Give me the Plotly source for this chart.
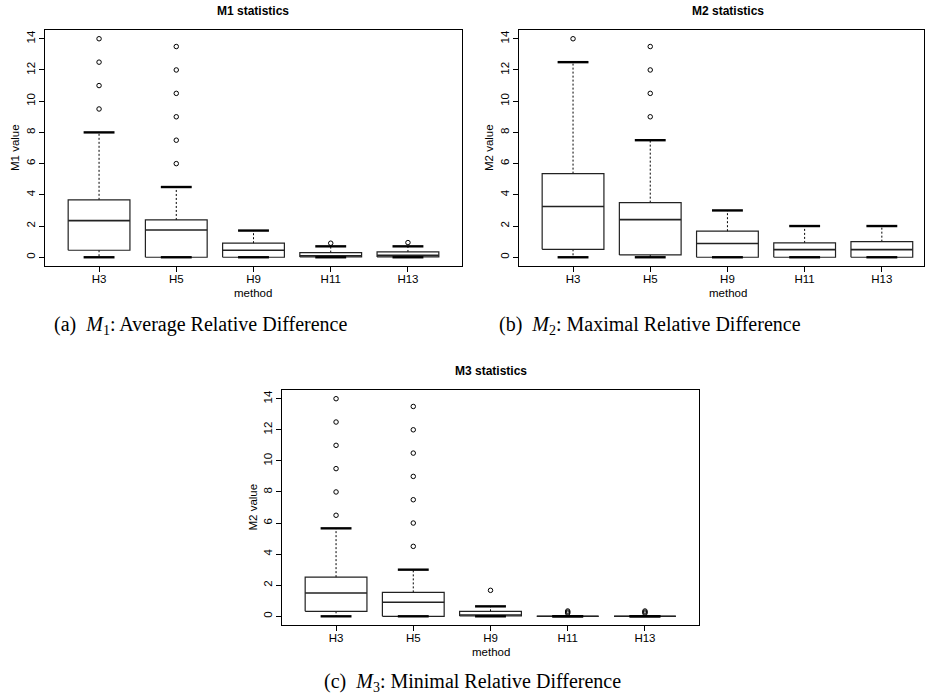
import plotly.graph_objects as go

categories = ["H3", "H5", "H9", "H11", "H13"]
y_ticks = [0, 2, 4, 6, 8, 10, 12, 14]

# M1 statistics
m1_q1 = [0.45, 0.0, 0.0, 0.02, 0.02]
m1_median = [2.35, 1.75, 0.45, 0.10, 0.12]
m1_q3 = [3.68, 2.39, 0.90, 0.30, 0.34]
m1_lower = [0.0, 0.0, 0.0, 0.0, 0.0]
m1_upper = [8.0, 4.5, 1.71, 0.70, 0.70]
m1_outliers = [[9.5, 11.0, 12.5, 14.0], [6.0, 7.5, 9.0, 10.5, 12.0, 13.5], [], [0.90], [0.94]]

# M2 statistics
m2_q1 = [0.51, 0.15, 0.0, 0.0, 0.0]
m2_median = [3.25, 2.41, 0.88, 0.49, 0.49]
m2_q3 = [5.36, 3.50, 1.67, 0.92, 1.00]
m2_lower = [0.0, 0.0, 0.0, 0.0, 0.0]
m2_upper = [12.5, 7.5, 3.0, 2.0, 2.0]
m2_outliers = [[14.0], [9.0, 10.5, 12.0, 13.5], [], [], []]

# M3 statistics
m3_q1 = [0.32, 0.0, 0.02, 0.0, 0.0]
m3_median = [1.5, 0.9, 0.08, 0.0, 0.0]
m3_q3 = [2.52, 1.54, 0.32, 0.0, 0.0]
m3_lower = [0.0, 0.0, 0.0, 0.0, 0.0]
m3_upper = [5.66, 3.0, 0.64, 0.0, 0.0]
m3_outliers = [[6.5, 8.0, 9.5, 11.0, 12.5, 14.0],
               [4.5, 6.0, 7.5, 9.0, 10.5, 12.0, 13.5],
               [1.67], [0.20, 0.27, 0.34], [0.20, 0.27, 0.34]]

panel_titles = ["M1 statistics", "M2 statistics", "M3 statistics"]
y_titles = ["M1 value", "M2 value", "M2 value"]
x_title = "method"
captions = ["(a)  <i>M</i><sub>1</sub>: Average Relative Difference",
            "(b)  <i>M</i><sub>2</sub>: Maximal Relative Difference",
            "(c)  <i>M</i><sub>3</sub>: Minimal Relative Difference"]

panels = [
    (m1_q1, m1_median, m1_q3, m1_lower, m1_upper, m1_outliers),
    (m2_q1, m2_median, m2_q3, m2_lower, m2_upper, m2_outliers),
    (m3_q1, m3_median, m3_q3, m3_lower, m3_upper, m3_outliers),
]

BOXW = 0.4      # half box width (R boxwex 0.8)
STAPW = 0.2     # half staple width
SANS = "Liberation Sans, Arial, Helvetica, sans-serif"
SERIF = "Liberation Serif, Times New Roman, serif"

fig = go.Figure()

for p, (q1, med, q3, lo, hi, outs) in enumerate(panels):
    xa = "x" if p == 0 else f"x{p+1}"
    ya = "y" if p == 0 else f"y{p+1}"
    bx, by, mx, my, wx, wy, sx, sy, ox, oy = [], [], [], [], [], [], [], [], [], []
    for i, _ in enumerate(categories):
        c = i + 1
        bx += [c - BOXW, c + BOXW, c + BOXW, c - BOXW, c - BOXW, None]
        by += [q1[i], q1[i], q3[i], q3[i], q1[i], None]
        mx += [c - BOXW, c + BOXW, None]
        my += [med[i], med[i], None]
        wx += [c, c, None, c, c, None]
        wy += [q3[i], hi[i], None, q1[i], lo[i], None]
        sx += [c - STAPW, c + STAPW, None, c - STAPW, c + STAPW, None]
        sy += [hi[i], hi[i], None, lo[i], lo[i], None]
        for v in outs[i]:
            ox.append(c)
            oy.append(v)
    common = dict(xaxis=xa, yaxis=ya, showlegend=False, hoverinfo="skip")
    fig.add_trace(go.Scatter(x=wx, y=wy, mode="lines",
                             line=dict(color="black", width=1, dash="2px,2px"), **common))
    fig.add_trace(go.Scatter(x=bx, y=by, mode="lines",
                             line=dict(color="#222", width=1.2), **common))
    fig.add_trace(go.Scatter(x=mx, y=my, mode="lines",
                             line=dict(color="#222", width=1.6), **common))
    fig.add_trace(go.Scatter(x=sx, y=sy, mode="lines",
                             line=dict(color="black", width=2.4), **common))
    fig.add_trace(go.Scatter(x=ox, y=oy, mode="markers",
                             marker=dict(symbol="circle-open", size=4.5, color="black",
                                         line=dict(width=1)), **common))

W, H = 925, 700
# plot regions in pixels: (left, right, top, bottom)
regions = [(45, 462, 30, 266), (519, 924, 30, 266), (282, 699, 390, 625)]
x_ranges = [[0.3, 5.7], [0.3, 0.3 + (924 - 519) / 77.2], [0.3, 5.7]]
y_range = [-0.56, 14.56]


def fx(px):
    return px / W


def fy(py):
    return 1 - py / H


layout = dict(width=W, height=H, margin=dict(l=0, r=0, t=0, b=0),
              paper_bgcolor="white", plot_bgcolor="white",
              font=dict(family=SANS, size=11.5, color="black"))
annotations = []
for p, (l, r, t, b) in enumerate(regions):
    xk = "xaxis" if p == 0 else f"xaxis{p+1}"
    yk = "yaxis" if p == 0 else f"yaxis{p+1}"
    xa = "x" if p == 0 else f"x{p+1}"
    ya = "y" if p == 0 else f"y{p+1}"
    layout[xk] = dict(domain=[fx(l), min(1.0, fx(r))], range=x_ranges[p], anchor=ya,
                      tickmode="array", tickvals=list(range(1, len(categories) + 1)),
                      ticktext=categories, ticks="outside", ticklen=5, tickcolor="black",
                      ticklabelstandoff=-3,
                      showline=True, mirror=True, linecolor="black", linewidth=1,
                      showgrid=False, zeroline=False, fixedrange=True,
                      tickfont=dict(family=SANS, size=11.5))
    layout[yk] = dict(domain=[fy(b), fy(t)], range=y_range, anchor=xa,
                      tickmode="array", tickvals=y_ticks, ticktext=[str(v) for v in y_ticks],
                      tickangle=-90, ticks="outside", ticklen=5, tickcolor="black",
                      ticklabelstandoff=-1,
                      showline=True, mirror=True, linecolor="black", linewidth=1,
                      showgrid=False, zeroline=False, fixedrange=True,
                      tickfont=dict(family=SANS, size=11.5))
    cx = (l + (r if p != 1 else 936)) / 2
    annotations.append(dict(text="<b>" + panel_titles[p] + "</b>", x=fx(cx), y=fy(t - 19),
                            xref="paper", yref="paper", showarrow=False,
                            xanchor="center", yanchor="middle",
                            font=dict(family=SANS, size=12)))
    annotations.append(dict(text=y_titles[p], x=fx(l - 30), y=fy((t + b) / 2),
                            xref="paper", yref="paper", showarrow=False, textangle=-90,
                            xanchor="center", yanchor="middle",
                            font=dict(family=SANS, size=11.5)))
    annotations.append(dict(text=x_title, x=fx(cx), y=fy(b + 27),
                            xref="paper", yref="paper", showarrow=False,
                            xanchor="center", yanchor="middle",
                            font=dict(family=SANS, size=11.5)))

cap_pos = [(200, 325), (650, 325), (472, 682)]
for p, (cx, cy) in enumerate(cap_pos):
    annotations.append(dict(text=captions[p], x=fx(cx), y=fy(cy),
                            xref="paper", yref="paper", showarrow=False,
                            xanchor="center", yanchor="middle",
                            font=dict(family=SERIF, size=20)))

layout["annotations"] = annotations
fig.update_layout(**layout)
fig.write_html("out.html",
               config={"displayModeBar": False, "staticPlot": True},
               post_script="document.body.style.margin='0';document.body.style.overflow='hidden';")
